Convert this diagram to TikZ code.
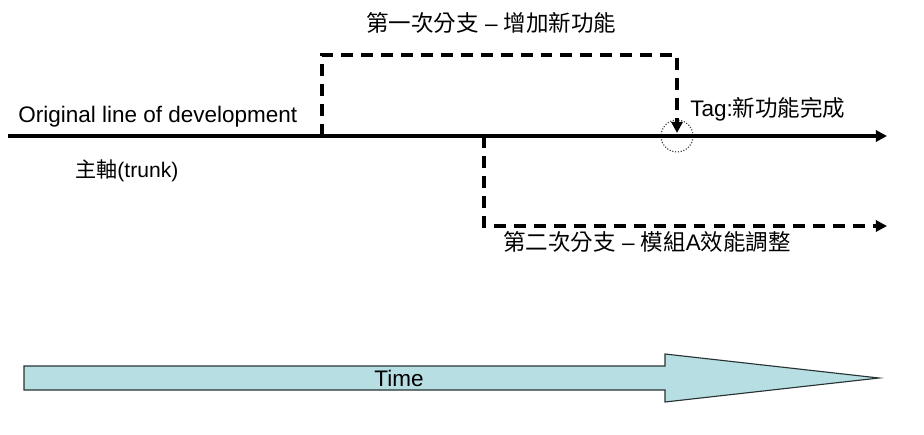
\documentclass[tikz,border=0pt]{standalone}
\usepackage{fontspec}
\setmainfont{Liberation Sans}
\newfontfamily\cjk{Noto Sans CJK TC}
\usetikzlibrary{arrows.meta}
\definecolor{timefill}{RGB}{183,223,227}
\definecolor{timeedge}{RGB}{40,50,50}
\tikzset{
    tip/.style={-{Triangle[length=8pt,width=8pt]}},
    trunkline/.style={line width=2.6pt},
    branchline/.style={line width=2.6pt, dash pattern=on 8.5pt off 5.7pt},
    lbl/.style={inner sep=0pt, anchor=base west, font=\fontsize{16}{19}\selectfont},
}
\begin{document}
\begin{tikzpicture}[x=0.025cm, y=-0.025cm]
        \useasboundingbox (0,0) rectangle (924,434);
        % Mark the points of the lines.
        \coordinate (trunkstart) at (8,136);
        \coordinate (trunkend) at (887,136);
        \coordinate (outone) at (322,136);
        \coordinate (outtwo) at (484,136);
        \coordinate (topleft) at (322,55);
        \coordinate (topright) at (677,55);
        \coordinate (tagtip) at (677,133);
        \coordinate (lowleft) at (484,226);
        \coordinate (lowend) at (887,226);
        \node[circle, draw=black!75, dash pattern=on 0.8pt off 1.2pt, line width=0.8pt, minimum size=22.7pt, inner sep=0pt] (tagmark) at (677,136) {};
        % Draw the trunk and the branches.
        \draw[trunkline, tip] (trunkstart) -- (trunkend);
        \draw[branchline, tip] (outone) -- (topleft) -- (topright) -- (tagtip);
        \draw[branchline, tip] (outtwo) -- (lowleft) -- (lowend);
        % Specify the labels.
        \node[lbl] (branchone) at (366,31) {{\cjk 第一次分支} – {\cjk 增加新功能}};
        \node[lbl] (trunkname) at (18,122) {Original line of development};
        \node[lbl, font=\fontsize{15}{18}\selectfont] (trunklabel) at (75,177) {{\cjk 主軸}(trunk)};
        \node[lbl] (taglabel) at (690,116) {Tag:{\cjk 新功能完成}};
        \node[lbl] (branchtwo) at (503,250) {{\cjk 第二次分支} – {\cjk 模組}A{\cjk 效能調整}};
        % Draw the time arrow.
        \draw[fill=timefill, draw=timeedge, line width=0.8pt] (24,366) -- (665,366) -- (665,354) -- (879,378) -- (665,402) -- (665,390) -- (24,390) -- cycle;
        \node[lbl, anchor=base] (time) at (399,386) {Time};
\end{tikzpicture}
\end{document}
